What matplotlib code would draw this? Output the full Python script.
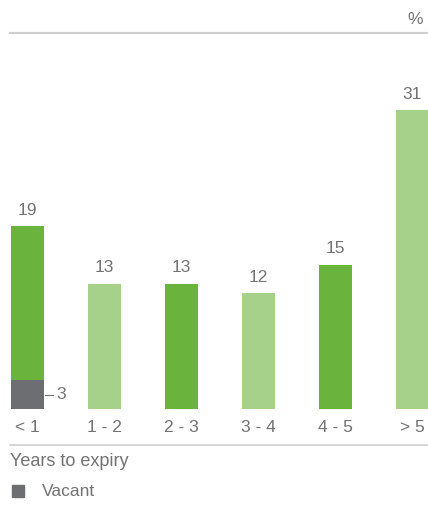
import matplotlib.pyplot as plt
from matplotlib.patches import Rectangle

plt.rcParams['font.family'] = ['Liberation Sans', 'DejaVu Sans']

categories = ['< 1', '1 - 2', '2 - 3', '3 - 4', '4 - 5', '> 5']
values = [19, 13, 13, 12, 15, 31]
vacant = [3, 0, 0, 0, 0, 0]
shade = ['dark', 'light', 'dark', 'light', 'dark', 'light']

DARK = '#6ab43e'
LIGHT = '#a6d18a'
GREY = '#6d6e71'
TEXT = '#737373'
RULE = '#cfcfcf'
FS = 12.5

W, H = 428, 508
fig = plt.figure(figsize=(W / 100, H / 100), dpi=100)
ax = fig.add_axes([0, 0, 1, 1])
ax.set_axis_off()

# px mapping: bar i centred at 27.5 + 77*i, baseline at 99 px from bottom, 9.63 px per unit
step, x0 = 77.0, 27.5
unit, base = 9.63, 99.0
ax.set_xlim(-x0 / step, (W - x0) / step)
ax.set_ylim(-base / unit, (H - base) / unit)

xs = list(range(len(categories)))
colors = [DARK if s == 'dark' else LIGHT for s in shade]
ax.bar(xs, values, width=0.43, color=colors, clip_on=False)
ax.bar(xs, vacant, width=0.43, color=GREY, clip_on=False)

for x, v in zip(xs, values):
    ax.annotate(str(v), (x, v), xytext=(0, 6), textcoords='offset points',
                ha='center', va='bottom', fontsize=FS, color=TEXT)

for x, v in zip(xs, vacant):
    if v:
        ax.plot([x + 0.23, x + 0.33], [v / 2, v / 2], color=TEXT, lw=0.8)
        ax.text(x + 0.37, v / 2, str(v), ha='left', va='center',
                fontsize=FS, color=TEXT)

for x, c in zip(xs, categories):
    ax.text(x, -19 / unit, c, ha='center', va='center', fontsize=FS, color=TEXT)

tr = fig.transFigure
fig.add_artist(plt.Line2D([10 / W, 1], [1 - 33 / H, 1 - 33 / H], color=RULE, lw=1.5, transform=tr))
fig.add_artist(plt.Line2D([10 / W, 1], [1 - 445 / H, 1 - 445 / H], color=RULE, lw=1.2, transform=tr))
fig.text(415 / W, 1 - 20 / H, '%', ha='center', va='center', fontsize=FS, color=TEXT)
fig.text(10 / W, 1 - 461 / H, 'Years to expiry', ha='left', va='center', fontsize=FS + 0.5, color=TEXT)
fig.add_artist(Rectangle((12 / W, 1 - 497 / H), 12 / W, 12 / H, color=GREY, transform=tr))
fig.text(42 / W, 1 - 491 / H, 'Vacant', ha='left', va='center', fontsize=FS, color=TEXT)

fig.savefig('out.png', dpi=100)
